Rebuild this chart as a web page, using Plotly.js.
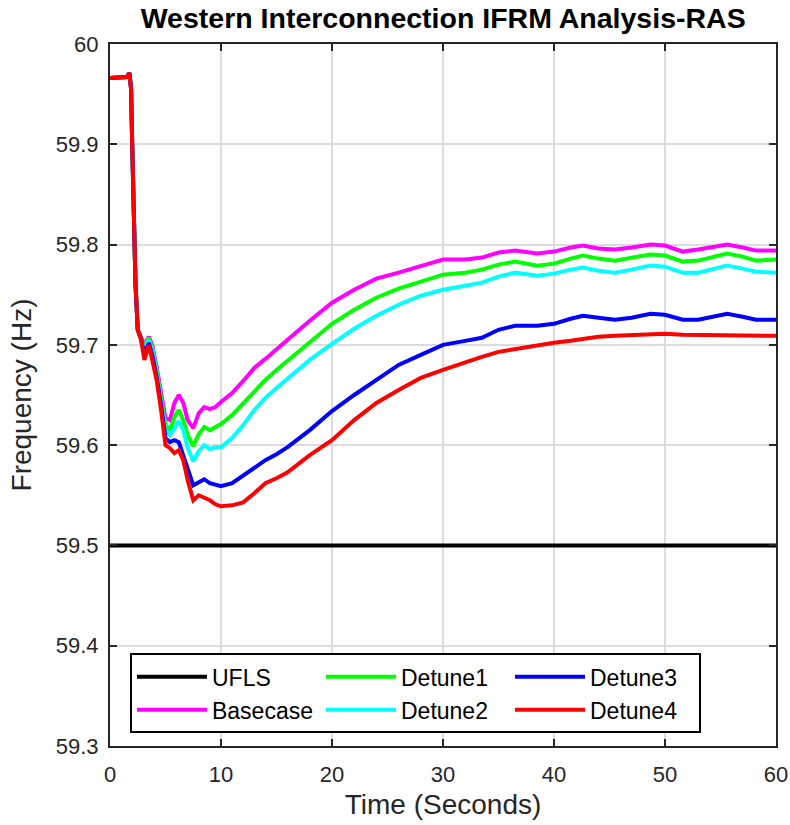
<!DOCTYPE html>
<html>
<head>
<meta charset="utf-8">
<script src="https://cdn.plot.ly/plotly-3.0.1.min.js"></script>
<style>html,body{margin:0;padding:0;background:#fff;}#chart{width:790px;height:825px;}</style>
</head>
<body>
<div id="chart"></div>
<script>
const seriesNames = ["UFLS", "Basecase", "Detune1", "Detune2", "Detune3", "Detune4"];
const time = [0, 1.5, 1.75, 1.9, 2.0, 2.15, 2.3, 2.5, 2.8, 3.1, 3.5, 3.8, 4.2, 4.6, 5.0, 5.4, 5.8, 6.2, 6.6, 7.0, 7.5, 8.0, 8.5, 9.0, 9.5, 10, 11, 12, 13, 14, 15, 16, 18, 20, 22, 24, 26, 28, 30, 32, 33.5, 35, 36.5, 38.5, 40, 41.5, 42.6, 44, 45.5, 47, 48.7, 50, 51.6, 53, 55.6, 57, 58.2, 60];
const uflsTime = [0, 60];
const ufls = [59.5, 59.5];
const basecase = [59.966, 59.967, 59.971, 59.955, 59.90, 59.82, 59.76, 59.715, 59.708, 59.70, 59.708, 59.70, 59.678, 59.652, 59.627, 59.625, 59.642, 59.65, 59.642, 59.625, 59.617, 59.632, 59.638, 59.636, 59.638, 59.643, 59.652, 59.664, 59.677, 59.686, 59.696, 59.705, 59.724, 59.742, 59.755, 59.766, 59.772, 59.779, 59.785, 59.785, 59.787, 59.792, 59.794, 59.791, 59.793, 59.797, 59.799, 59.796, 59.795, 59.797, 59.8, 59.799, 59.793, 59.795, 59.8, 59.797, 59.794, 59.794];
const detune1 = [59.966, 59.967, 59.971, 59.955, 59.90, 59.82, 59.76, 59.715, 59.706, 59.698, 59.707, 59.697, 59.675, 59.648, 59.62, 59.615, 59.628, 59.635, 59.625, 59.61, 59.599, 59.611, 59.618, 59.615, 59.618, 59.621, 59.63, 59.642, 59.654, 59.665, 59.675, 59.684, 59.703, 59.721, 59.735, 59.747, 59.756, 59.763, 59.77, 59.772, 59.775, 59.78, 59.783, 59.779, 59.781, 59.786, 59.789, 59.786, 59.784, 59.787, 59.79, 59.789, 59.783, 59.784, 59.791, 59.788, 59.784, 59.785];
const detune2 = [59.966, 59.967, 59.971, 59.955, 59.90, 59.82, 59.76, 59.715, 59.706, 59.695, 59.705, 59.695, 59.672, 59.645, 59.615, 59.61, 59.618, 59.624, 59.615, 59.597, 59.584, 59.594, 59.6, 59.596, 59.598, 59.598, 59.607, 59.62, 59.635, 59.647, 59.657, 59.666, 59.685, 59.701, 59.716, 59.729, 59.74, 59.749, 59.755, 59.759, 59.762, 59.768, 59.772, 59.769, 59.771, 59.775, 59.777, 59.774, 59.772, 59.775, 59.779, 59.778, 59.772, 59.772, 59.779, 59.776, 59.773, 59.772];
const detune3 = [59.966, 59.967, 59.971, 59.955, 59.90, 59.82, 59.76, 59.715, 59.706, 59.69, 59.702, 59.69, 59.668, 59.64, 59.607, 59.603, 59.605, 59.603, 59.59, 59.575, 59.56, 59.563, 59.566, 59.562, 59.561, 59.559, 59.562, 59.57, 59.577, 59.585, 59.591, 59.598, 59.615, 59.634, 59.65, 59.665, 59.68, 59.69, 59.70, 59.704, 59.707, 59.715, 59.719, 59.719, 59.721, 59.726, 59.729, 59.727, 59.725, 59.727, 59.731, 59.73, 59.725, 59.725, 59.731, 59.728, 59.725, 59.725];
const detune4 = [59.966, 59.967, 59.971, 59.955, 59.90, 59.82, 59.76, 59.715, 59.705, 59.685, 59.70, 59.685, 59.665, 59.635, 59.60, 59.597, 59.592, 59.595, 59.585, 59.565, 59.545, 59.55, 59.548, 59.545, 59.541, 59.539, 59.54, 59.543, 59.552, 59.562, 59.567, 59.573, 59.59, 59.605, 59.625, 59.642, 59.655, 59.667, 59.675, 59.683, 59.688, 59.693, 59.696, 59.699, 59.702, 59.704, 59.706, 59.708, 59.709, 59.71, 59.711, 59.711, 59.71, 59.71, 59.71, 59.709, 59.709, 59.709];
const xTicks = [0, 10, 20, 30, 40, 50, 60];
const yTicks = [59.3, 59.4, 59.5, 59.6, 59.7, 59.8, 59.9, 60];
const yTickText = ["59.3", "59.4", "59.5", "59.6", "59.7", "59.8", "59.9", "60"];

const colors = ["#000000", "#ff00ff", "#00ff00", "#00ffff", "#0000ff", "#ff0000"];
const ys = [ufls, basecase, detune1, detune2, detune3, detune4];
const ranks = [1, 4, 2, 5, 3, 6];

const traces = seriesNames.map((name, i) => ({
  x: i === 0 ? uflsTime : time,
  y: ys[i],
  name: name,
  type: "scatter",
  mode: "lines",
  line: {color: colors[i], width: 4},
  legendrank: ranks[i]
}));

const FONT = "Arial, 'Liberation Sans', Helvetica, sans-serif";
const axisCommon = {
  showline: true, mirror: "ticks", linecolor: "#262626", linewidth: 2,
  ticks: "inside", ticklen: 7, tickwidth: 2, tickcolor: "#262626",
  showgrid: true, gridcolor: "#dcdcdc", gridwidth: 2,
  zeroline: false,
  tickfont: {family: FONT, size: 22, color: "#262626"}
};

const layout = {
  width: 790, height: 825,
  margin: {l: 110, r: 14, t: 44, b: 79},
  paper_bgcolor: "#ffffff", plot_bgcolor: "#ffffff",
  title: {text: "<b>Western Interconnection IFRM Analysis-RAS</b>", font: {family: FONT, size: 28.5, color: "#000000"}, x: 0.561, xanchor: "center", y: 0.978, yanchor: "middle"},
  xaxis: Object.assign({}, axisCommon, {
    range: [0, 60], tickvals: xTicks, ticktext: xTicks.map(String),
    ticklabelstandoff: 8,
    title: {text: "Time (Seconds)", font: {family: FONT, size: 28, color: "#262626"}, standoff: 8}
  }),
  yaxis: Object.assign({}, axisCommon, {
    range: [59.3, 60], tickvals: yTicks, ticktext: yTickText,
    ticklabelstandoff: 5,
    title: {text: "Frequency (Hz)", font: {family: FONT, size: 28, color: "#262626"}, standoff: 16}
  }),
  showlegend: true,
  legend: {
    orientation: "h", x: 0.03, y: 0.132, xanchor: "left", yanchor: "top",
    bgcolor: "#ffffff", bordercolor: "#000000", borderwidth: 2,
    font: {family: FONT, size: 23, color: "#000000"},
    entrywidth: 104, entrywidthmode: "pixels", itemwidth: 70,
    traceorder: "normal", tracegroupgap: 0
  }
};

Plotly.newPlot("chart", traces, layout, {displayModeBar: false, staticPlot: true});
</script>
</body>
</html>
